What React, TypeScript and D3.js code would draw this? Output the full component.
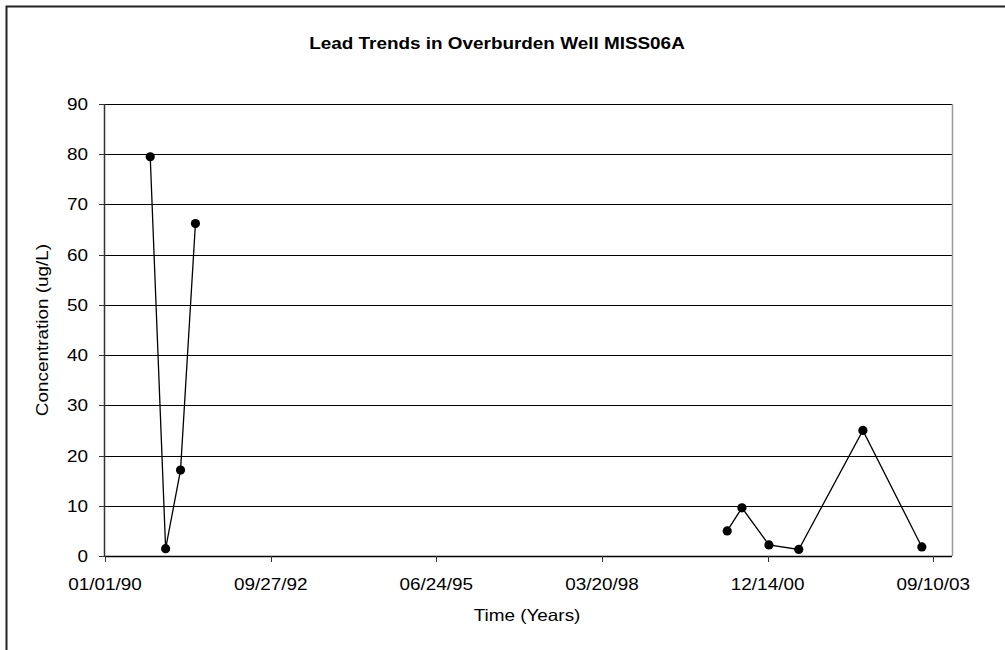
import React from "react";
import * as d3 from "d3";

const title = "Lead Trends in Overburden Well MISS06A";
const xTitle = "Time (Years)";
const yTitle = "Concentration (ug/L)";

// Sampling dates and lead concentrations (ug/L)
const datesEarly = ["10/01/90", "01/02/91", "04/02/91", "07/01/91"];
const valuesEarly = [79.5, 1.45, 17.1, 66.2];
const datesLate = ["04/14/00", "07/12/00", "12/22/00", "06/20/01", "07/12/02", "07/03/03"];
const valuesLate = [5.0, 9.6, 2.2, 1.3, 25.0, 1.8];

const xTickLabels = ["01/01/90", "09/27/92", "06/24/95", "03/20/98", "12/14/00", "09/10/03"];
const xDomain = ["01/01/90", "01/01/04"];
const yTicks = [0, 10, 20, 30, 40, 50, 60, 70, 80, 90];

const W = 1005;
const H = 650;
const M = { left: 105, right: 952, top: 104, bottom: 556 };
const FONT = "'Liberation Sans', Arial, sans-serif";
const FS = 16.3;
const SX = 1.16;

const parse = d3.utcParse("%m/%d/%y");

function SText({ x, y, anchor = "middle", rotate = 0, bold = false, children }: any) {
  return (
    <g transform={`translate(${x},${y}) rotate(${rotate}) scale(${SX},1)`}>
      <text
        x={0}
        y={0}
        textAnchor={anchor}
        fontFamily={FONT}
        fontSize={FS}
        fontWeight={bold ? "bold" : "normal"}
        fill="#000"
      >
        {children}
      </text>
    </g>
  );
}

export default function App() {
  const x = d3
    .scaleUtc()
    .domain(xDomain.map((d) => parse(d) as Date))
    .range([M.left, M.right]);
  const y = d3.scaleLinear().domain([0, 90]).range([M.bottom, M.top]);

  const series = [
    datesEarly.map((d, i) => ({ date: parse(d) as Date, value: valuesEarly[i] })),
    datesLate.map((d, i) => ({ date: parse(d) as Date, value: valuesLate[i] })),
  ];

  const line = d3
    .line<{ date: Date; value: number }>()
    .x((d) => x(d.date))
    .y((d) => y(d.value));

  const xTicks = xTickLabels.map((l) => ({ label: l, date: parse(l) as Date }));

  return (
    <svg width={W} height={H} style={{ position: "absolute", left: 0, top: 0 }}>
      <rect x={0} y={0} width={W} height={H} fill="#fff" />
      <rect x={6.5} y={6.5} width={1020} height={700} fill="none" stroke="#222" strokeWidth={2} />

      <SText x={497} y={48.5} bold>
        {title}
      </SText>

      {/* gridlines */}
      {yTicks.map((t) => (
        <line
          key={"g" + t}
          x1={M.left}
          x2={M.right}
          y1={Math.round(y(t)) + 0.5}
          y2={Math.round(y(t)) + 0.5}
          stroke="#000"
          strokeWidth={1}
        />
      ))}
      {/* right border of plot */}
      <line x1={M.right + 0.5} x2={M.right + 0.5} y1={M.top} y2={M.bottom} stroke="#999" strokeWidth={1.5} />
      {/* y axis */}
      <line x1={M.left - 0.5} x2={M.left - 0.5} y1={M.top} y2={M.bottom + 1} stroke="#333" strokeWidth={1.5} />
      {yTicks.map((t) => (
        <g key={"yt" + t}>
          <line
            x1={M.left - 6}
            x2={M.left}
            y1={Math.round(y(t)) + 0.5}
            y2={Math.round(y(t)) + 0.5}
            stroke="#333"
            strokeWidth={1}
          />
          <SText x={88} y={y(t) + 6} anchor="end">
            {t}
          </SText>
        </g>
      ))}
      {/* x axis */}
      <line x1={M.left} x2={M.right} y1={M.bottom + 0.5} y2={M.bottom + 0.5} stroke="#000" strokeWidth={1.5} />
      {xTicks.map((t) => (
        <g key={t.label}>
          <line
            x1={Math.round(x(t.date)) + 0.5}
            x2={Math.round(x(t.date)) + 0.5}
            y1={M.bottom}
            y2={M.bottom + 6}
            stroke="#333"
            strokeWidth={1}
          />
          <SText x={x(t.date)} y={590}>
            {t.label}
          </SText>
        </g>
      ))}

      <SText x={527} y={621}>
        {xTitle}
      </SText>
      <SText x={48} y={(M.top + M.bottom) / 2} rotate={-90}>
        {yTitle}
      </SText>

      {series.map((s, i) => (
        <g key={"s" + i}>
          <path d={line(s) || ""} fill="none" stroke="#000" strokeWidth={1.3} />
          {s.map((d, j) => (
            <circle key={j} cx={x(d.date)} cy={y(d.value)} r={4.6} fill="#000" />
          ))}
        </g>
      ))}
    </svg>
  );
}
